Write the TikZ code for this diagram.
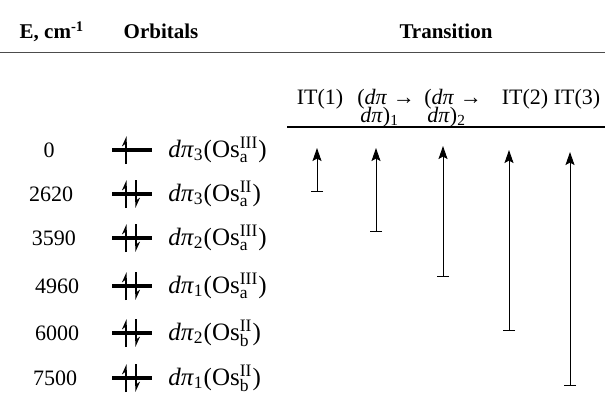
\documentclass[tikz,border=0pt]{standalone}
\usepackage{fontspec}
\setmainfont{Liberation Serif}
\usetikzlibrary{arrows.meta}
\newcommand{\dpi}[1]{\textit{dπ}$_{\mathrm{#1}}$}
\newcommand{\Os}[2]{(Os$^{\mathrm{#2}}_{\mathrm{#1}}$)}

\begin{document}
\begin{tikzpicture}[x=0.5pt,y=-0.5pt,
	head/.style={font=\bfseries\fontsize{10.5}{12}\selectfont,anchor=base},
	txt/.style={font=\fontsize{11}{13}\selectfont,inner sep=0pt},
	orb/.style={font=\fontsize{12.5}{14}\selectfont,inner sep=0pt},
	lvl/.style={line width=1.7pt},
	spinup/.style={line width=0.6pt,-{Stealth[harpoon,length=4.5pt,width=4pt]}},
	trans/.style={line width=0.5pt,{Bar[width=6pt,line width=0.6pt]}-{Stealth[length=6.5pt,width=4.5pt,inset=1.2pt]}}]
	\useasboundingbox (0,0) rectangle (605,396);
	% headings
	\node[head] (hE) at (52,39) {E, cm\textsuperscript{-1}};
	\node[head] (hO) at (161,39) {Orbitals};
	\node[head] (hT) at (446,39) {Transition};
	\coordinate (r1a) at (0,52);
	\coordinate (r1b) at (605,52);
	\draw[line width=0.35pt,black!70] (r1a) -- (r1b);
	% transition labels
	\node[txt,anchor=base] (it1) at (320,104) {IT(1)};
	\node[txt,anchor=base west] (dd1) at (357,104) {(\textit{dπ} →};
	\node[txt,anchor=base west] (dd1b) at (360,122) {\textit{dπ})$_{\mathrm{1}}$};
	\node[txt,anchor=base west] (dd2) at (424,104) {(\textit{dπ} →};
	\node[txt,anchor=base west] (dd2b) at (427,122) {\textit{dπ})$_{\mathrm{2}}$};
	\node[txt,anchor=base] (it2) at (525,104) {IT(2)};
	\node[txt,anchor=base] (it3) at (577,104) {IT(3)};
	\coordinate (r2a) at (287,127);
	\coordinate (r2b) at (605,127);
	\draw[line width=0.7pt] (r2a) -- (r2b);
	% orbital levels
	\foreach \n/\y/\ex/\e/\lab in {0/150/49/0/{\dpi{3}\Os{a}{III}},
			1/194/51/2620/{\dpi{3}\Os{a}{II}},
			2/238/54/3590/{\dpi{2}\Os{a}{III}},
			3/286/57/4960/{\dpi{1}\Os{a}{III}},
			4/333/57/6000/{\dpi{2}\Os{b}{II}},
			5/378/55/7500/{\dpi{1}\Os{b}{II}}} {
		\node[txt,anchor=base] (e\n) at (\ex,\y+7) {\e};
		\coordinate (bl\n) at (112,\y);
		\coordinate (br\n) at (152,\y);
		\draw[lvl] (bl\n) -- (br\n);
		\node[orb,anchor=base west] (o\n) at (168,\y+7) {\lab};
		\coordinate (ua\n) at (126,\y+14);
		\coordinate (ub\n) at (126,\y-14);
		\draw[spinup] (ua\n) -- (ub\n);
	}
	\foreach \n/\y in {1/194,2/238,3/286,4/333,5/378} {
		\coordinate (da\n) at (136,\y-14);
		\coordinate (db\n) at (136,\y+14);
		\draw[spinup] (da\n) -- (db\n);
	}
	% transitions
	\coordinate (t1a) at (317,192); \coordinate (t1b) at (317,148);
	\coordinate (t2a) at (376,232); \coordinate (t2b) at (376,148);
	\coordinate (t3a) at (443,277); \coordinate (t3b) at (443,146);
	\coordinate (t4a) at (509,331); \coordinate (t4b) at (509,150);
	\coordinate (t5a) at (570,386); \coordinate (t5b) at (570,152);
	\foreach \k in {1,...,5}
		\draw[trans] (t\k a) -- (t\k b);
\end{tikzpicture}
\end{document}
